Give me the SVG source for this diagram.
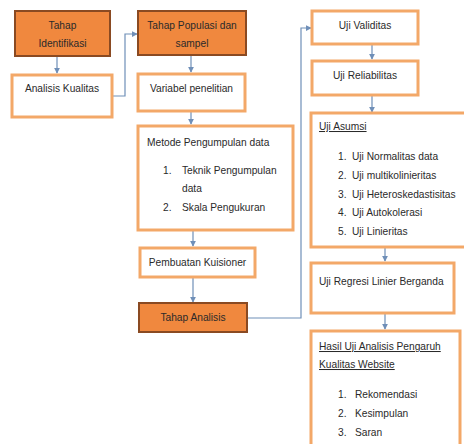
<svg xmlns="http://www.w3.org/2000/svg" width="464" height="444" viewBox="0 0 464 444">
<defs>
<marker id="ah" viewBox="0 0 8 8" refX="7" refY="4" markerWidth="6" markerHeight="6" orient="auto" markerUnits="userSpaceOnUse">
<path d="M0,0 L8,4 L0,8 z" fill="#6f8fb8"/>
</marker>
</defs>
<style>
.dark{fill:#f0883e;stroke:#8a4a22;stroke-width:2}
.light{fill:#ffffff;stroke:#f3a868;stroke-width:3}
text{font-family:"Liberation Sans",Arial,sans-serif;font-size:10.2px;fill:#2a2a2a}
.c{text-anchor:middle}
.conn{fill:none;stroke:#6f8fb8;stroke-width:1.2}
</style>
<rect width="464" height="444" fill="#ffffff"/>
<g id="connectors">
<path class="conn" d="M57,56 V73" marker-end="url(#ah)"/>
<path class="conn" d="M113,96 H125 V34 H137" marker-end="url(#ah)"/>
<path class="conn" d="M191,55 V72" marker-end="url(#ah)"/>
<path class="conn" d="M191,111 V124" marker-end="url(#ah)"/>
<path class="conn" d="M193,230 V246" marker-end="url(#ah)"/>
<path class="conn" d="M193,277 V302" marker-end="url(#ah)"/>
<path class="conn" d="M247,318 H301 V28 H311" marker-end="url(#ah)"/>
<path class="conn" d="M372,44 V59" marker-end="url(#ah)"/>
<path class="conn" d="M372,95 V112" marker-end="url(#ah)"/>
<path class="conn" d="M385,247 V261" marker-end="url(#ah)"/>
<path class="conn" d="M385,313 V329" marker-end="url(#ah)"/>
</g>
<g id="n1"><rect class="dark" x="15" y="11" width="95" height="45"/>
<text class="c" x="62.5" y="29">Tahap</text><text class="c" x="62.5" y="47">Identifikasi</text></g>
<g id="n2"><rect class="light" x="12" y="75" width="100" height="42"/>
<text class="c" x="62" y="92">Analisis Kualitas</text></g>
<g id="n3"><rect class="dark" x="138" y="11" width="108" height="44"/>
<text class="c" x="192" y="29">Tahap Populasi dan</text><text class="c" x="192" y="47">sampel</text></g>
<g id="n4"><rect class="light" x="138" y="74" width="107" height="37"/>
<text class="c" x="191.5" y="92">Variabel penelitian</text></g>
<g id="n5"><rect class="light" x="138" y="126" width="155" height="104"/>
<text x="147" y="146">Metode Pengumpulan data</text>
<text x="163" y="174">1.</text><text x="182" y="174">Teknik Pengumpulan</text>
<text x="182" y="192">data</text>
<text x="163" y="211">2.</text><text x="182" y="211">Skala Pengukuran</text></g>
<g id="n6"><rect class="light" x="140" y="248" width="115" height="29"/>
<text class="c" x="197.5" y="266">Pembuatan Kuisioner</text></g>
<g id="n7"><rect class="dark" x="139" y="303" width="108" height="29"/>
<text class="c" x="193" y="321">Tahap Analisis</text></g>
<g id="n8"><rect class="light" x="312" y="11" width="106" height="33"/>
<text class="c" x="365" y="29">Uji Validitas</text></g>
<g id="n9"><rect class="light" x="312" y="61" width="106" height="34"/>
<text class="c" x="365" y="79">Uji Reliabilitas</text></g>
<g id="n10"><rect class="light" x="311" y="113" width="156" height="134"/>
<text x="319" y="130" text-decoration="underline">Uji Asumsi</text>
<text x="338" y="160">1.</text><text x="352" y="160">Uji Normalitas data</text>
<text x="338" y="179">2.</text><text x="352" y="179">Uji multikolinieritas</text>
<text x="338" y="198">3.</text><text x="352" y="198">Uji Heteroskedastisitas</text>
<text x="338" y="216">4.</text><text x="352" y="216">Uji Autokolerasi</text>
<text x="338" y="235">5.</text><text x="352" y="235">Uji Linieritas</text></g>
<g id="n11"><rect class="light" x="311" y="263" width="143" height="50"/>
<text x="319" y="285">Uji Regresi Linier Berganda</text></g>
<g id="n12"><rect class="light" x="311" y="331" width="149" height="120"/>
<text x="319" y="350" text-decoration="underline">Hasil Uji Analisis Pengaruh</text>
<text x="319" y="368" text-decoration="underline">Kualitas Website</text>
<text x="338" y="398">1.</text><text x="355" y="398">Rekomendasi</text>
<text x="338" y="417">2.</text><text x="355" y="417">Kesimpulan</text>
<text x="338" y="436">3.</text><text x="355" y="436">Saran</text></g>
</svg>
